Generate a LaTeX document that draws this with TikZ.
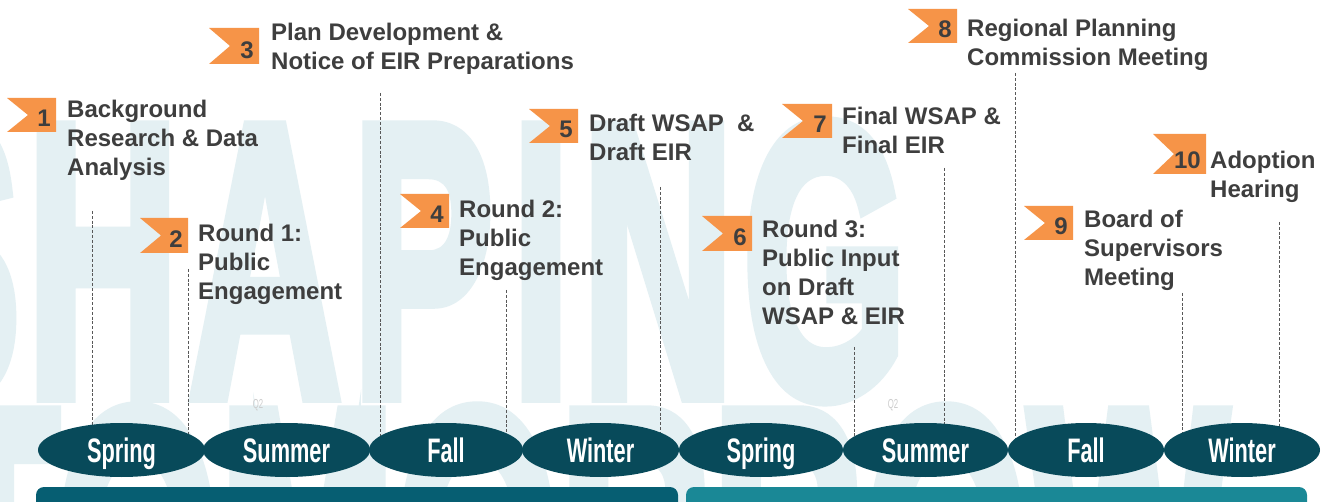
\documentclass[tikz,border=0pt]{standalone}
\usepackage{fontspec}
\setmainfont{Liberation Sans}
\newfontfamily\heavywm[FakeBold=4]{Liberation Sans Bold}
\usetikzlibrary{shapes.geometric}

\definecolor{inkgray}{RGB}{62,62,62}
\definecolor{flagorange}{RGB}{246,148,72}
\definecolor{seasonteal}{RGB}{8,74,90}
\definecolor{bardark}{RGB}{6,94,114}
\definecolor{barlight}{RGB}{26,136,150}
\definecolor{watermark}{RGB}{228,240,243}
\definecolor{guide}{RGB}{88,88,88}
\definecolor{ghost}{RGB}{205,205,205}

\tikzset{
  % multi-line labels are anchored at the baseline of their last line
  steplabel/.style={anchor=base west, align=left, inner sep=0pt,
    font=\fontsize{24}{29}\selectfont\bfseries, text=inkgray},
  flagnum/.style={anchor=base east, inner sep=0pt,
    font=\fontsize{24}{24}\selectfont\bfseries, text=inkgray},
  season/.style={ellipse, fill=seasonteal, inner sep=0pt, minimum height=54pt,
    text=white, text height=24pt, text depth=0pt,
    font=\fontsize{34}{34}\selectfont\bfseries},
  guideline/.style={draw=guide, line width=0.9pt, dash pattern=on 3pt off 1.8pt},
  wm/.style={inner sep=0pt, text=watermark,
    font=\heavywm\fontsize{388}{388}\selectfont},
  ghostlabel/.style={inner sep=0pt, text=ghost, font=\fontsize{13}{13}\selectfont},
}

% orange ribbon flag: name, left, top, right, bottom, number
\newcommand{\stepflag}[6]{%
  \fill[flagorange] (#2,#3) -- (#4,#3) -- (#4,#5) -- (#2,#5)
    -- ({#2+21},{(#3+#5)/2}) -- cycle;
  \node[flagnum] (#1) at ({#4-5},{#5-5}) {#6};
}
\newcommand{\seasonname}[1]{\scalebox{0.64}[1]{#1}}
\newcommand{\narrowwm}[1]{\scalebox{0.544}[1]{#1}}

\begin{document}
\begin{tikzpicture}[x=1pt, y=-1pt]
\clip (0,0) rectangle (1322,502);
\fill[white] (0,0) rectangle (1322,502);

% background lettering, set letter by letter
\foreach \c/\x in {S/-50, H/103, A/265, P/423, I/541, N/658, G/825}{
  \node[wm, anchor=base] (wm\c) at (\x,395) {\narrowwm{\c}};
}
\node[wm, anchor=base west] (wmbottom) at (-70,680) {\narrowwm{TOMORROW}};

% dashed guides from each step down to the season row
\foreach \i/\x/\t in {1/92/211, 2/188/269, 3/380/93, 4/506/290, 5/660/187,
                      6/854/347, 7/944/168, 8/1015/73, 9/1182/293, 10/1279/222}{
  \coordinate (g\i top) at (\x,\t);
  \coordinate (g\i bot) at (\x,448);
  \draw[guideline] (g\i top) -- (g\i bot);
}

\node[ghostlabel] (q2a) at (258,405) {\scalebox{0.6}[1]{Q2}};
\node[ghostlabel] (q2b) at (893,405) {\scalebox{0.6}[1]{Q2}};

% season row
\node[season, minimum width=167pt] (spring1) at (121.5,450) {\seasonname{Spring}};
\node[season, minimum width=167pt] (summer1) at (286.5,450) {\seasonname{Summer}};
\node[season, minimum width=154pt] (fall1)   at (446,450)   {\seasonname{Fall}};
\node[season, minimum width=157pt] (winter1) at (600.5,450) {\seasonname{Winter}};
\node[season, minimum width=164pt] (spring2) at (761,450)   {\seasonname{Spring}};
\node[season, minimum width=165pt] (summer2) at (925.5,450) {\seasonname{Summer}};
\node[season, minimum width=156pt] (fall2)   at (1086,450)  {\seasonname{Fall}};
\node[season, minimum width=156pt] (winter2) at (1242,450)  {\seasonname{Winter}};

% year bars
\fill[bardark, rounded corners=8pt] (36,487) rectangle (678,520);
\fill[barlight, rounded corners=8pt] (686,487) rectangle (1307,520);

% step flags
\stepflag{n1}{7}{98}{56}{132}{1}
\stepflag{n2}{140}{218}{188}{253}{2}
\stepflag{n3}{209}{28}{259}{64}{3}
\stepflag{n4}{400}{194}{449}{228}{4}
\stepflag{n5}{529}{109}{578}{143}{5}
\stepflag{n6}{702}{216}{752}{251}{6}
\stepflag{n7}{782}{104}{832}{138}{7}
\stepflag{n8}{908}{9}{957}{43}{8}
\stepflag{n9}{1024}{206}{1073}{240}{9}
\stepflag{n10}{1153}{134}{1206}{174}{10}

% step descriptions
\node[steplabel] (t1) at (67,176) {Background\\Research \& Data\\Analysis};
\node[steplabel] (t2) at (198,300) {Round 1:\\Public\\Engagement};
\node[steplabel] (t3) at (271,70) {Plan Development \&\\Notice of EIR Preparations};
\node[steplabel] (t4) at (459,276) {Round 2:\\Public\\Engagement};
\node[steplabel] (t5) at (589,161) {Draft WSAP\ \ \&\\Draft EIR};
\node[steplabel] (t6) at (762,325) {Round 3:\\Public Input\\on Draft\\WSAP \& EIR};
\node[steplabel] (t7) at (842,154) {Final WSAP \&\\Final EIR};
\node[steplabel] (t8) at (967,66) {Regional Planning\\Commission Meeting};
\node[steplabel] (t9) at (1084,286) {Board of\\Supervisors\\Meeting};
\node[steplabel] (t10) at (1210,198) {Adoption\\Hearing};
\end{tikzpicture}
\end{document}
